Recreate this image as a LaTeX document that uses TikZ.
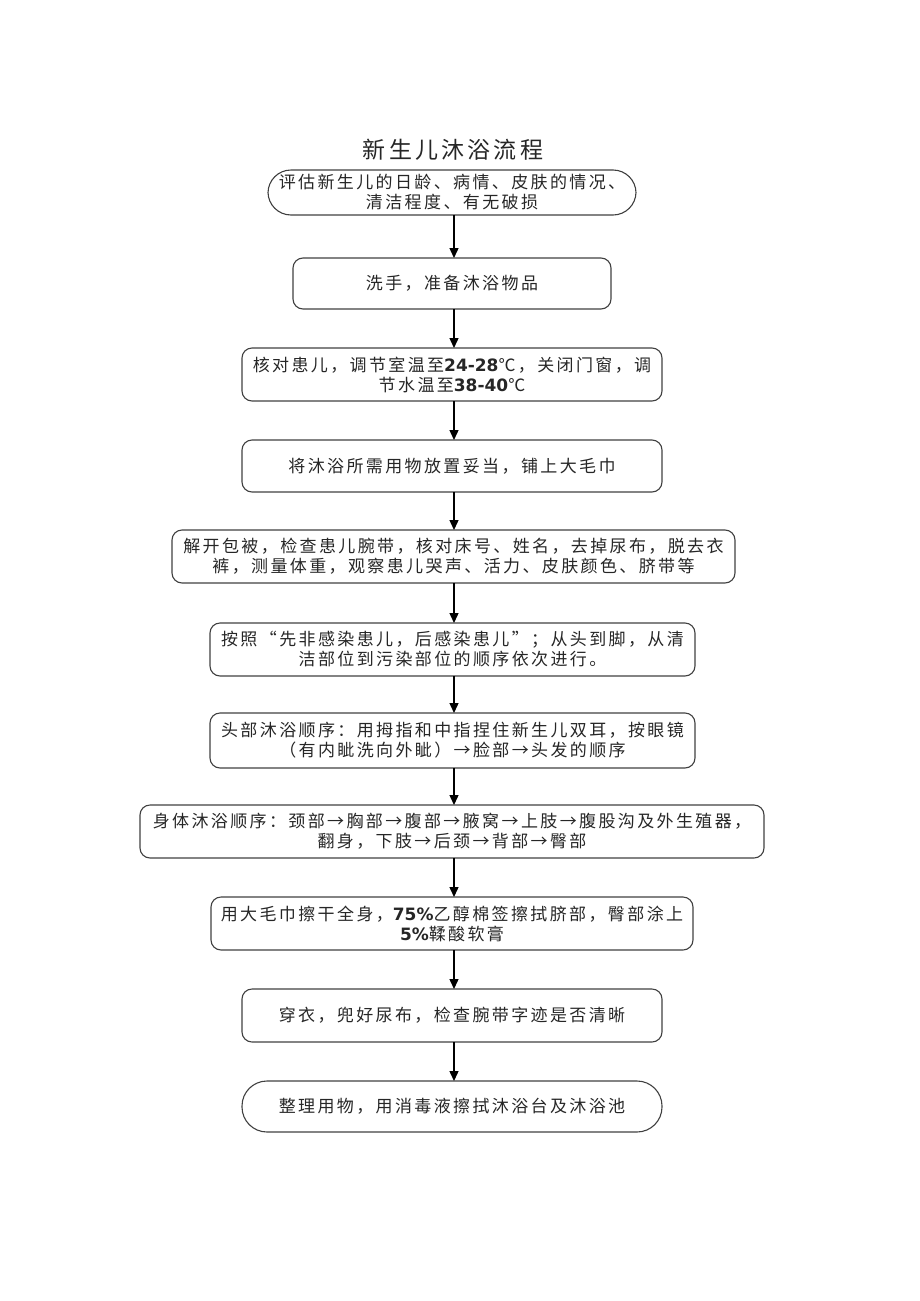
\documentclass[tikz,border=0pt]{standalone}
\usepackage{fontspec}
\setmainfont{Noto Sans CJK SC}
\newfontfamily\cjk{Noto Sans CJK SC}[LetterSpace=14]
\newfontfamily\numfont{DejaVu Sans}
\usetikzlibrary{arrows.meta}
\newcommand{\nm}[1]{{\numfont\bfseries #1}}
\begin{document}
\begin{tikzpicture}[x=1pt,y=-1pt,
  every node/.style={inner sep=0pt, outer sep=0pt},
  stepbox/.style={draw=black!75, line width=1.1pt, rounded corners=10pt, align=center,
    font=\cjk\fontsize{17pt}{20pt}\selectfont, text=black!85},
  pill/.style={stepbox, rounded corners=23pt},
  arr/.style={draw=black, line width=1.4pt, -{Triangle[length=10pt,width=9pt]}}]
\useasboundingbox (0,0) rectangle (920,1301);
\coordinate (ax) at (454,0);
\node[font=\cjk\fontsize{23pt}{26pt}\selectfont, text=black!85] (title) at (453,150) {新生儿沐浴流程};
\node[pill, minimum width=368pt, minimum height=45pt] (b1) at (452,192.5) {评估新生儿的日龄、病情、皮肤的情况、\\清洁程度、有无破损};
\node[stepbox, minimum width=318pt, minimum height=51pt] (b2) at (452,283.5) {洗手，准备沐浴物品};
\node[stepbox, minimum width=420pt, minimum height=53pt] (b3) at (452,374.5) {核对患儿，调节室温至\nm{24-28}℃，关闭门窗，调\\节水温至\nm{38-40}℃};
\node[stepbox, minimum width=420pt, minimum height=52pt] (b4) at (452,466) {将沐浴所需用物放置妥当，铺上大毛巾};
\node[stepbox, minimum width=563pt, minimum height=53pt] (b5) at (453.5,556.5) {解开包被，检查患儿腕带，核对床号、姓名，去掉尿布，脱去衣\\裤，测量体重，观察患儿哭声、活力、皮肤颜色、脐带等};
\node[stepbox, minimum width=485pt, minimum height=53pt] (b6) at (452.5,649.5) {按照“先非感染患儿，后感染患儿”；从头到脚，从清\\洁部位到污染部位的顺序依次进行。};
\node[stepbox, minimum width=485pt, minimum height=55pt] (b7) at (452.5,740.5) {头部沐浴顺序：用拇指和中指捏住新生儿双耳，按眼镜\\（有内眦洗向外眦）→脸部→头发的顺序};
\node[stepbox, minimum width=624pt, minimum height=53pt] (b8) at (452,831.5) {身体沐浴顺序：颈部→胸部→腹部→腋窝→上肢→腹股沟及外生殖器，\\翻身，下肢→后颈→背部→臀部};
\node[stepbox, minimum width=482pt, minimum height=53pt] (b9) at (452,923.5) {用大毛巾擦干全身，\nm{75\%}乙醇棉签擦拭脐部，臀部涂上\\\nm{5\%}鞣酸软膏};
\node[stepbox, minimum width=420pt, minimum height=53pt] (b10) at (452,1015.5) {穿衣，兜好尿布，检查腕带字迹是否清晰};
\node[pill, minimum width=420pt, minimum height=51pt, rounded corners=25pt] (b11) at (452,1106.5) {整理用物，用消毒液擦拭沐浴台及沐浴池};
\foreach \p/\q in {b1/b2,b2/b3,b3/b4,b4/b5,b5/b6,b6/b7,b7/b8,b8/b9,b9/b10,b10/b11}{
  \draw[arr] (\p.south -| ax) -- (\q.north -| ax);
}
\end{tikzpicture}
\end{document}
